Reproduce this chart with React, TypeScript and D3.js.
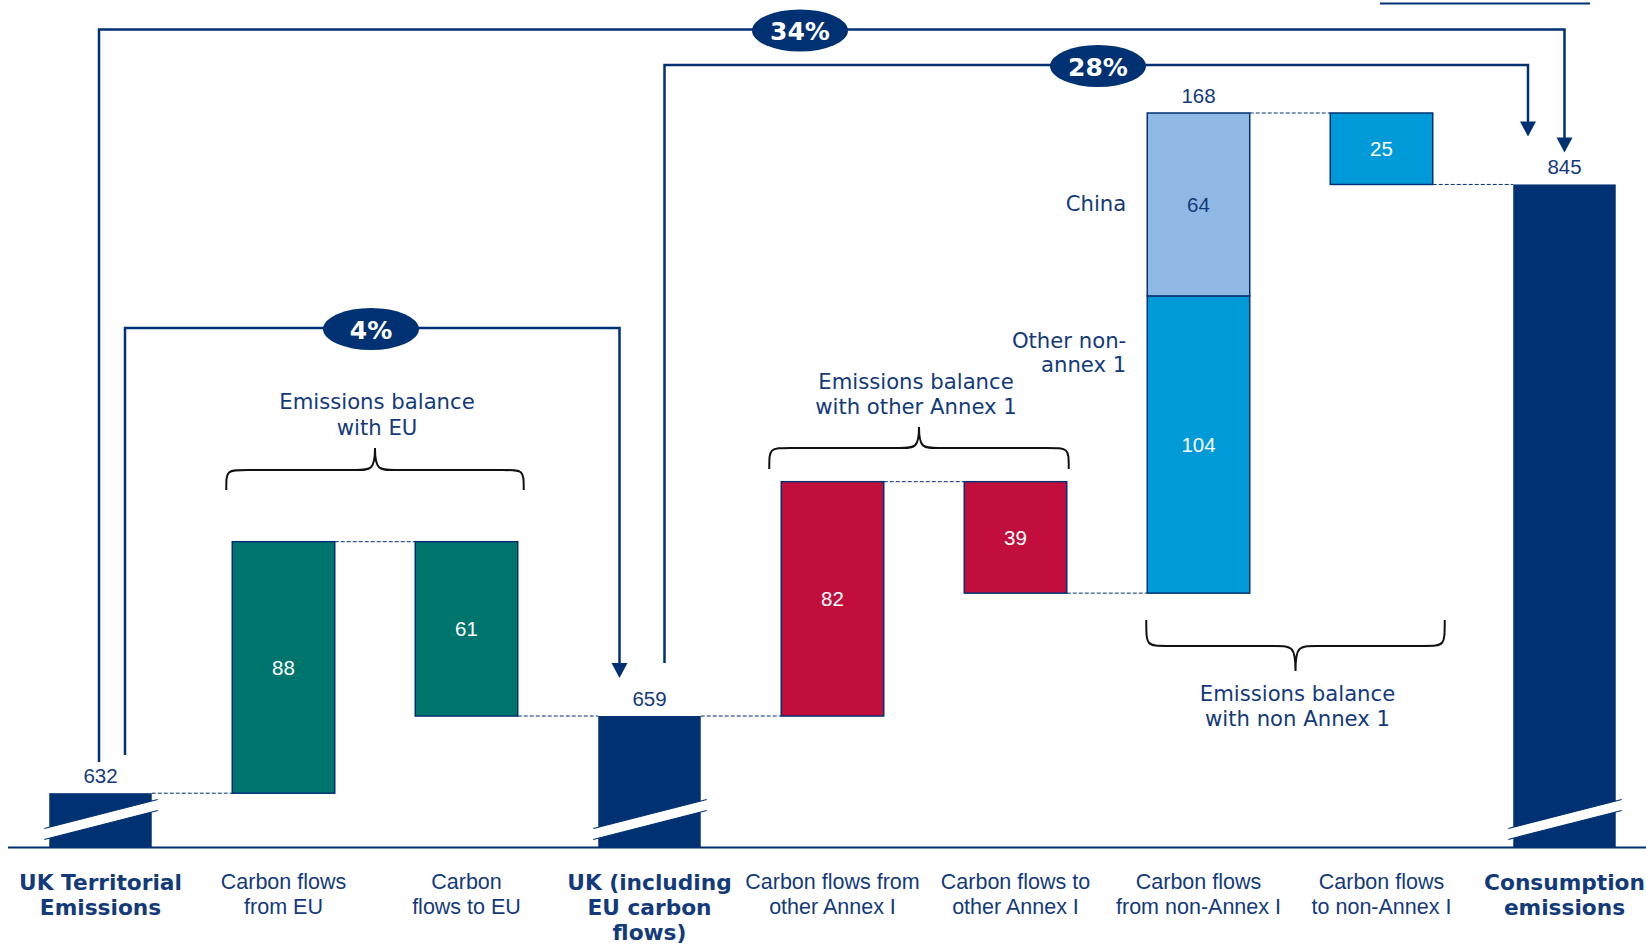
import React from 'react';
import * as d3 from 'd3';

const categoryLines: string[][] = [
  ['UK Territorial', 'Emissions'],
  ['Carbon flows', 'from EU'],
  ['Carbon', 'flows to EU'],
  ['UK (including', 'EU carbon', 'flows)'],
  ['Carbon flows from', 'other Annex I'],
  ['Carbon flows to', 'other Annex I'],
  ['Carbon flows', 'from non-Annex I'],
  ['Carbon flows', 'to non-Annex I'],
  ['Consumption', 'emissions'],
];
const boldCategories = [true, false, false, true, false, false, false, false, true];
const stepKinds = ['total', 'up', 'down', 'total', 'up', 'down', 'up', 'down', 'total'];
const stepValues = [632, 88, 61, 659, 82, 39, 168, 25, 845];
const stepColors = ['#003173', '#00756d', '#00756d', '#003173', '#c20e3c', '#c20e3c', '#009ad9', '#009ad9', '#003173'];
const nonAnnexParts = [
  { name: ['Other non-', 'annex 1'], value: 104, color: '#009ad9' },
  { name: ['China'], value: 64, color: '#8fb9e4' },
];
const percentLabels = ['4%', '28%', '34%'];
const groupLabels = [
  ['Emissions balance', 'with EU'],
  ['Emissions balance', 'with other Annex 1'],
  ['Emissions balance', 'with non Annex 1'],
];

const W = 1646;
const H = 944;
const NAVY = '#003173';
const TEXT = '#133a7a';
const BASE_Y = 847.5;
const FLOOR = 613;

export default function App() {
  const x = d3
    .scaleBand<number>()
    .domain(d3.range(stepValues.length))
    .range([9, 1656])
    .paddingInner(0.44)
    .paddingOuter(0.22);
  const y = d3.scaleLinear().domain([FLOOR, 870]).range([BASE_Y, 113]);
  const bw = x.bandwidth();

  let running = 0;
  const bars = stepValues.map((v, i) => {
    const k = stepKinds[i];
    let lo: number, hi: number;
    if (k === 'total') {
      lo = FLOOR;
      hi = v;
      running = v;
    } else if (k === 'up') {
      lo = running;
      hi = running + v;
      running += v;
    } else {
      hi = running;
      lo = running - v;
      running -= v;
    }
    return { i, k, v, lo, hi, after: running };
  });

  const cx = (i: number) => (x(i) as number) + bw / 2;
  const left = (i: number) => x(i) as number;
  const right = (i: number) => (x(i) as number) + bw;

  const brace = (x1: number, x2: number, yEnd: number, yH: number, yTip: number) => {
    const xm = (x1 + x2) / 2;
    const r = 22;
    const rt = 20;
    return `M${x1},${yEnd} C${x1},${yH} ${x1},${yH} ${x1 + r},${yH} L${xm - rt},${yH} C${xm - 4},${yH} ${xm},${yH} ${xm},${yTip} C${xm},${yH} ${xm + 4},${yH} ${xm + rt},${yH} L${x2 - r},${yH} C${x2},${yH} ${x2},${yH} ${x2},${yEnd}`;
  };

  const braces = [
    { x1: left(1) - 6, x2: right(2) + 6, yEnd: 490, yH: 470, yTip: 448, ty: [401, 427] },
    { x1: left(4) - 12, x2: right(5) + 2, yEnd: 469, yH: 448, yTip: 427, ty: [381, 406] },
    { x1: left(6) - 1, x2: right(7) + 12, yEnd: 620, yH: 646, yTip: 671, ty: [693, 718] },
  ];

  const brackets = [
    { label: percentLabels[0], xl: cx(0) + 24.5, yl: 755, xr: cx(3) - 30, tip: y(659) - 38, ly: 328, ex: 371 },
    { label: percentLabels[1], xl: cx(3) + 15, yl: 663, xr: cx(8) - 36.5, tip: 136.5, ly: 65, ex: 1098 },
    { label: percentLabels[2], xl: cx(0) - 1.5, yl: 762, xr: cx(8), tip: y(845) - 32, ly: 29.5, ex: 800 },
  ];

  const breakMark = (i: number) => {
    const a = left(i) - 5;
    const b = right(i) + 6;
    const t1 = BASE_Y - 19, t2 = BASE_Y - 48, b1 = BASE_Y - 8, b2 = BASE_Y - 37;
    return (
      <g key={'br' + i}>
        <polygon points={`${a},${t1} ${b},${t2} ${b},${b2} ${a},${b1}`} fill="#fff" />
        <line x1={a} y1={t1} x2={b} y2={t2} stroke={NAVY} strokeWidth={1.2} />
        <line x1={a} y1={b1} x2={b} y2={b2} stroke={NAVY} strokeWidth={1.2} />
      </g>
    );
  };

  const valFont = 'Liberation Sans, Arial';

  return (
    <svg width={W} height={H} style={{ position: 'absolute', left: 0, top: 0, background: '#fff' }}>
      <line x1={1380} x2={1590} y1={3.5} y2={3.5} stroke={NAVY} strokeWidth={2} />

      {bars.slice(0, -1).map((b, i) => (
        <line
          key={'c' + i}
          x1={right(i)}
          x2={left(i + 1)}
          y1={y(b.after)}
          y2={y(b.after)}
          stroke={NAVY}
          strokeWidth={1}
          strokeDasharray="4,2"
        />
      ))}

      {bars.map((b) => {
        if (b.i === 6) {
          let acc = b.lo;
          return (
            <g key={'b' + b.i}>
              {nonAnnexParts.map((p, j) => {
                const lo = acc;
                const hi = acc + p.value;
                acc = hi;
                return (
                  <g key={j}>
                    <rect x={left(6)} y={y(hi)} width={bw} height={y(lo) - y(hi)} fill={p.color} stroke={NAVY} strokeWidth={1.5} />
                    <text x={cx(6)} y={(y(lo) + y(hi)) / 2} fill={j === 0 ? '#fff' : TEXT} fontFamily={valFont} fontSize={20.5} textAnchor="middle" dominantBaseline="central">
                      {p.value}
                    </text>
                    {p.name.map((t, n) => (
                      <text key={n} x={left(6) - 21} y={(j === 0 ? 340 : 203) + n * 24.5} fill={TEXT} fontFamily="DejaVu Sans" fontSize={21.2} textAnchor="end" dominantBaseline="central">
                        {t}
                      </text>
                    ))}
                  </g>
                );
              })}
              <text x={cx(6)} y={y(b.hi) - 18} fill={TEXT} fontFamily={valFont} fontSize={20.5} textAnchor="middle" dominantBaseline="central">
                {b.v}
              </text>
            </g>
          );
        }
        const isTotal = b.k === 'total';
        return (
          <g key={'b' + b.i}>
            <rect
              x={left(b.i)}
              y={y(b.hi)}
              width={bw}
              height={y(b.lo) - y(b.hi)}
              fill={stepColors[b.i]}
              stroke={isTotal ? 'none' : NAVY}
              strokeWidth={1.5}
            />
            {isTotal ? (
              <text x={cx(b.i)} y={y(b.hi) - 18} fill={TEXT} fontFamily={valFont} fontSize={20.5} textAnchor="middle" dominantBaseline="central">
                {b.v}
              </text>
            ) : (
              <text x={cx(b.i)} y={(y(b.lo) + y(b.hi)) / 2} fill="#fff" fontFamily={valFont} fontSize={20.5} textAnchor="middle" dominantBaseline="central">
                {b.v}
              </text>
            )}
          </g>
        );
      })}

      {bars.filter((b) => b.k === 'total').map((b) => breakMark(b.i))}

      <line x1={8} x2={1646} y1={BASE_Y} y2={BASE_Y} stroke={NAVY} strokeWidth={2} />

      {categoryLines.map((lines, i) =>
        lines.map((t, n) => (
          <text
            key={'cat' + i + '_' + n}
            x={cx(i)}
            y={882 + n * 25}
            fill={TEXT}
            fontFamily={boldCategories[i] ? 'DejaVu Sans' : valFont}
            fontWeight={boldCategories[i] ? 'bold' : 'normal'}
            fontSize={boldCategories[i] ? 21.7 : 21.5}
            textAnchor="middle"
            dominantBaseline="central"
          >
            {t}
          </text>
        ))
      )}

      {braces.map((b, i) => (
        <g key={'brace' + i}>
          <path d={brace(b.x1, b.x2, b.yEnd, b.yH, b.yTip)} fill="none" stroke="#111" strokeWidth={2} />
          {groupLabels[i].map((t, n) => (
            <text key={n} x={(b.x1 + b.x2) / 2 + (i === 1 ? -3 : 2)} y={b.ty[n]} fill={TEXT} fontFamily="DejaVu Sans" fontSize={21.2} textAnchor="middle" dominantBaseline="central">
              {t}
            </text>
          ))}
        </g>
      ))}

      {brackets.map((b, i) => (
        <g key={'pb' + i}>
          <path
            d={`M${b.xl},${b.yl} L${b.xl},${b.ly} L${b.xr},${b.ly} L${b.xr},${b.tip - 14}`}
            fill="none"
            stroke={NAVY}
            strokeWidth={2.5}
          />
          <polygon points={`${b.xr - 8},${b.tip - 15} ${b.xr + 8},${b.tip - 15} ${b.xr},${b.tip}`} fill={NAVY} />
          <ellipse cx={b.ex} cy={b.ly + 1} rx={48} ry={21} fill={NAVY} />
          <text x={b.ex} y={b.ly + 2} fill="#fff" fontFamily="DejaVu Sans" fontWeight="bold" fontSize={25} textAnchor="middle" dominantBaseline="central">
            {b.label}
          </text>
        </g>
      ))}
    </svg>
  );
}
